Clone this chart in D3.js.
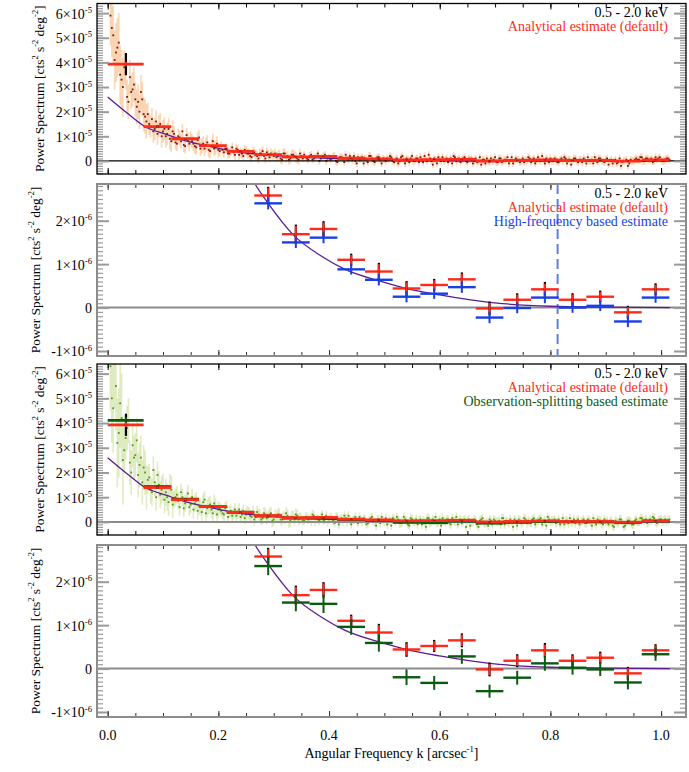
<!DOCTYPE html>
<html>
<head>
<meta charset="utf-8">
<script src="https://cdn.jsdelivr.net/npm/d3@7"></script>
<style>
  body { margin: 0; background: #fff; }
  text { font-family: "Liberation Serif", "Times New Roman", serif; }
</style>
</head>
<body>
<svg id="viz" width="689" height="772" font-family="Liberation Serif, serif"></svg>
<script>
// ---- data ----
// unbinned modes, values in 1e-5. Set A sits on k = 0.005 + i*0.005,
// set B on the half steps between them (k = 0.0075 + i*0.005)
const modeStart = 0.005
const modeStep = 0.005
const analyticalModesA = [
  5.9, 5.1, 4.4, 4.8, 3.3, 3.8, 2.6, 3.4, 2.9, 2.5,
  2.4, 2.8, 1.9, 1.6, 1.5, 1.7, 1.3, 1.1, 1.5, 1.2,
  1.0, 1.3, 0.8, 1.1, 0.7, 0.95, 1.2, 0.6, 0.85, 0.9,
  0.7, 0.55, 0.95, 0.6, 0.5, 0.75, 0.4, 0.8, 0.55, 0.45,
  0.6, 0.35, 0.5, 0.3, 0.55, 0.25, 0.45, 0.35, 0.2, 0.4,
  0.3, 0.15, 0.35, 0.2, 0.3, 0.4, 0.1, 0.25, 0.3, 0.2,
  0.15, 0.25, 0.05, 0.3, 0.2, 0.1, 0.25, 0.15, 0.05, 0.2,
  0.25, 0.1, 0.2, 0.05, 0.15, 0.3, 0.1, 0.2, 0.0, 0.15,
  0.1, 0.2, -0.05, 0.15, 0.1, 0.25, 0.05, 0.1, 0.2, -0.1,
  0.05, 0.15, 0.1, -0.05, 0.2, 0.0, 0.1, 0.15, -0.1, 0.05,
  0.1, 0.2, 0.0, 0.05, -0.1, 0.15, 0.05, 0.1, -0.05, 0.2,
  0.0, 0.1, 0.15, -0.05, 0.05, 0.25, 0.0, 0.1, -0.1, 0.05,
  0.15, 0.05, -0.05, 0.1, 0.2, 0.0, 0.1, 0.05, 0.15, -0.05,
  0.05, -0.1, 0.1, 0.0, -0.15, 0.05, 0.1, -0.05, 0.0, 0.15,
  -0.05, 0.1, 0.0, 0.05, -0.1, 0.15, 0.0, 0.05, -0.05, 0.1,
  0.05, 0.15, -0.05, 0.1, 0.0, 0.05, 0.2, -0.1, 0.05, 0.1,
  0.0, 0.05, -0.05, 0.1, 0.15, -0.1, 0.05, 0.0, 0.1, -0.05,
  0.05, 0.1, -0.1, 0.0, 0.05, 0.15, -0.05, 0.1, 0.0, 0.05,
  -0.15, 0.05, 0.0, -0.1, 0.1, -0.05, 0.0, -0.2, 0.05, 0.0,
  0.1, 0.05, 0.15, 0.0, 0.1, 0.05, -0.05, 0.15, 0.1, 0.05,
  0.0, 0.1, 0.05
]
const analyticalModesB = [
  5.4, 4.1, 4.6, 3.5, 3.0, 3.6, 2.4, 2.8, 3.1, 2.2,
  2.0, 2.5, 1.8, 1.9, 1.4, 1.2, 1.6, 1.4, 1.0, 1.3,
  1.1, 0.9, 1.2, 0.75, 1.0, 0.8, 0.65, 1.05, 0.7, 0.8,
  0.6, 0.85, 0.5, 0.7, 0.65, 0.45, 0.6, 0.5, 0.7, 0.4,
  0.45, 0.5, 0.3, 0.4, 0.35, 0.5, 0.25, 0.3, 0.45, 0.3,
  0.2, 0.35, 0.25, 0.1, 0.3, 0.2, 0.35, 0.15, 0.25, 0.3,
  0.2, 0.1, 0.3, 0.15, 0.05, 0.25, 0.2, 0.1, 0.3, 0.1,
  0.15, 0.05, 0.25, 0.1, 0.2, 0.0, 0.15, 0.25, 0.1, 0.05,
  0.2, 0.0, 0.1, 0.15, -0.05, 0.1, 0.2, 0.05, 0.0, 0.15,
  0.1, -0.1, 0.05, 0.2, 0.1, -0.05, 0.15, 0.05, 0.1, 0.0,
  0.05, 0.15, -0.05, 0.1, 0.0, 0.2, -0.1, 0.05, 0.1, 0.0,
  0.1, -0.05, 0.05, 0.2, 0.0, 0.1, -0.15, 0.05, 0.15, 0.0,
  0.0, 0.1, 0.05, -0.1, 0.15, 0.05, -0.05, 0.1, 0.0, 0.1,
  0.1, 0.0, -0.05, 0.15, 0.05, -0.1, 0.0, 0.1, 0.05, -0.05,
  0.1, -0.05, 0.05, 0.15, 0.0, -0.1, 0.1, 0.05, 0.0, -0.05,
  0.0, 0.1, 0.05, -0.1, 0.15, 0.0, 0.05, 0.1, -0.05, 0.0,
  0.1, -0.05, 0.05, 0.0, 0.1, 0.05, -0.15, 0.1, 0.0, 0.05,
  -0.05, 0.05, 0.15, 0.0, -0.1, 0.05, 0.1, 0.0, -0.05, 0.1,
  0.0, -0.1, 0.05, -0.05, -0.2, 0.0, 0.05, -0.1, 0.0, 0.05,
  0.05, 0.15, 0.0, 0.1, 0.05, 0.1, 0.0, 0.05, 0.15, 0.0,
  0.05, 0.1
]
const splittingModesA = [
  6.3, 4.6, 5.5, 3.6, 4.2, 2.9, 3.8, 2.4, 3.1, 2.7,
  1.9, 2.6, 2.2, 1.4, 1.8, 1.2, 1.6, 1.9, 1.1, 1.4,
  1.2, 0.8, 1.3, 0.9, 1.1, 0.6, 1.0, 0.75, 1.15, 0.7,
  0.5, 0.85, 0.65, 0.4, 0.9, 0.55, 0.7, 0.35, 0.6, 0.5,
  0.45, 0.3, 0.6, 0.4, 0.25, 0.5, 0.35, 0.2, 0.45, 0.3,
  0.35, 0.2, 0.1, 0.4, 0.25, 0.15, 0.3, 0.2, 0.35, 0.1,
  0.2, 0.3, 0.1, 0.15, 0.25, 0.05, 0.2, 0.3, 0.1, 0.15,
  0.05, 0.2, 0.15, 0.3, 0.0, 0.1, 0.2, 0.05, 0.25, 0.1,
  0.15, -0.05, 0.2, 0.1, 0.0, 0.15, 0.25, -0.1, 0.1, 0.05,
  0.2, 0.0, 0.1, -0.05, 0.15, 0.05, -0.15, 0.1, 0.2, 0.0,
  -0.1, 0.05, 0.15, 0.0, 0.1, -0.05, 0.2, 0.05, -0.15, 0.1,
  0.0, -0.1, 0.1, 0.05, -0.2, 0.15, 0.0, 0.05, -0.05, 0.1,
  0.15, 0.0, 0.1, -0.1, 0.05, 0.2, 0.0, -0.05, 0.1, 0.05,
  -0.15, 0.0, 0.05, -0.2, 0.1, -0.05, 0.0, 0.1, -0.1, 0.05,
  0.0, -0.1, 0.15, 0.05, -0.05, 0.0, 0.1, -0.15, 0.05, 0.0,
  0.1, 0.05, -0.05, 0.15, 0.0, 0.1, -0.1, 0.05, 0.2, 0.0,
  0.05, -0.05, 0.1, 0.0, -0.1, 0.05, 0.15, 0.0, -0.05, 0.1,
  0.0, 0.1, -0.05, 0.05, -0.15, 0.0, 0.1, 0.05, -0.1, 0.0,
  -0.1, 0.05, -0.2, 0.0, 0.1, -0.05, -0.15, 0.05, 0.0, -0.1,
  0.1, 0.0, 0.15, 0.05, -0.05, 0.1, 0.2, 0.0, 0.05, 0.1,
  0.05, 0.0, 0.1
]
const splittingModesB = [
  5.0, 6.4, 3.2, 4.8, 2.5, 3.4, 4.1, 2.0, 2.6, 3.3,
  2.3, 1.6, 2.0, 1.7, 1.3, 2.1, 1.0, 1.5, 1.3, 0.9,
  1.0, 1.4, 0.7, 1.0, 0.85, 1.2, 0.55, 0.9, 0.6, 1.0,
  0.75, 0.45, 0.6, 0.8, 0.35, 0.65, 0.5, 0.75, 0.3, 0.55,
  0.35, 0.55, 0.2, 0.45, 0.35, 0.25, 0.5, 0.3, 0.15, 0.4,
  0.25, 0.4, 0.2, 0.3, 0.1, 0.35, 0.15, 0.3, 0.05, 0.25,
  0.3, 0.1, 0.2, 0.35, 0.0, 0.2, 0.1, 0.25, 0.15, 0.05,
  0.2, 0.1, 0.0, 0.25, 0.15, 0.05, 0.3, 0.1, 0.0, 0.2,
  0.05, 0.2, -0.1, 0.15, 0.25, 0.0, 0.1, 0.05, 0.2, -0.05,
  0.1, 0.15, -0.1, 0.05, 0.2, 0.0, 0.1, -0.05, 0.05, 0.15,
  0.05, -0.15, 0.1, 0.2, -0.05, 0.0, 0.1, -0.1, 0.15, 0.0,
  0.1, 0.05, -0.1, 0.0, 0.15, -0.05, 0.1, 0.2, 0.0, -0.15,
  0.05, 0.1, -0.05, 0.15, 0.0, -0.1, 0.1, 0.05, -0.2, 0.1,
  0.0, 0.1, -0.1, 0.05, 0.15, -0.05, -0.15, 0.05, 0.1, 0.0,
  0.05, 0.15, -0.1, 0.0, 0.1, -0.2, 0.05, 0.1, -0.05, 0.15,
  -0.05, 0.0, 0.1, -0.1, 0.05, 0.15, 0.0, -0.15, 0.1, 0.05,
  0.1, 0.0, -0.1, 0.15, 0.05, -0.05, 0.0, 0.1, 0.05, -0.1,
  0.05, -0.05, 0.1, 0.0, 0.15, -0.1, 0.05, -0.05, 0.1, 0.05,
  0.0, -0.15, 0.05, -0.05, 0.1, -0.2, 0.0, 0.05, -0.1, 0.05,
  0.0, 0.15, 0.05, 0.1, 0.0, 0.05, 0.15, -0.05, 0.1, 0.0,
  0.1, 0.05
]
// half length of the mode error bars (1e-5), looked up by k
const modeErrK = [0.03, 0.07, 0.12, 0.2, 0.35, 1.1]
const analyticalModeErr = [1.2, 0.7, 0.45, 0.3, 0.2, 0.15]
const splittingModeErr = [1.8, 0.9, 0.55, 0.35, 0.25, 0.18]

// binned estimates, values in 1e-6
const binK = [0.033, 0.09, 0.14, 0.19, 0.24, 0.29, 0.34, 0.39, 0.44, 0.49,
  0.54, 0.59, 0.64, 0.69, 0.74, 0.79, 0.84, 0.89, 0.94, 0.99]
const binEdges = [0.0, 0.065, 0.115, 0.165, 0.215, 0.265, 0.315, 0.365, 0.415, 0.465,
  0.515, 0.565, 0.615, 0.665, 0.715, 0.765, 0.815, 0.865, 0.915, 0.965, 1.015]
const analytical = [39.3, 13.9, 9.0, 6.2, 3.9, 2.58, 1.69, 1.81, 1.10, 0.83,
  0.44, 0.52, 0.65, -0.02, 0.18, 0.42, 0.18, 0.25, -0.11, 0.42]
const analyticalErr = [0.9, 0.5, 0.35, 0.25, 0.2, 0.17, 0.19, 0.15, 0.11, 0.17,
  0.14, 0.11, 0.13, 0.13, 0.12, 0.13, 0.12, 0.11, 0.12, 0.11]
const totalErr = [4.5, 0.5, 0.35, 0.25, 0.2, 0.2, 0.22, 0.18, 0.14, 0.2,
  0.17, 0.14, 0.16, 0.16, 0.15, 0.17, 0.15, 0.14, 0.15, 0.14]
const highFreq = [null, null, null, null, null, 2.40, 1.50, 1.61, 0.88, 0.64,
  0.25, 0.32, 0.47, -0.23, -0.01, 0.23, 0.0, 0.04, -0.32, 0.23]
const highFreqErr = [0, 0, 0, 0, 0, 0.14, 0.13, 0.13, 0.12, 0.13,
  0.13, 0.12, 0.13, 0.13, 0.12, 0.13, 0.12, 0.12, 0.13, 0.12]
const splitting = [41.1, 14.3, 9.2, 6.2, 3.9, 2.36, 1.52, 1.49, 0.96, 0.59,
  -0.20, -0.33, 0.28, -0.52, -0.21, 0.12, 0.02, -0.02, -0.32, 0.33]
const splittingErr = [1.3, 0.6, 0.4, 0.3, 0.25, 0.21, 0.2, 0.21, 0.18, 0.2,
  0.18, 0.16, 0.17, 0.15, 0.16, 0.17, 0.16, 0.15, 0.16, 0.15]

// model curve (1e-6)
const modelK = [0.0, 0.035, 0.067, 0.107, 0.143, 0.185, 0.227, 0.266, 0.29, 0.335,
  0.388, 0.429, 0.489, 0.537, 0.60, 0.69, 0.80, 0.90, 1.016]
const modelP = [26.0, 19.5, 14.0, 10.7, 8.0, 5.9, 3.9, 2.85, 2.40, 1.68,
  1.17, 0.88, 0.62, 0.45, 0.29, 0.12, 0.03, 0.01, 0.0]

const kCut = 0.813   // high-frequency cut shown as dashed line

const RED = '#ff2a1a'
const BLUE = '#1a3fe6'
const GREEN = '#0b5a12'
const FONT = 14

// ---- layout ----
const svg = d3.select('#viz')
const left = 97
const right = 686
const x = d3.scaleLinear().domain([-0.0193, 1.045]).range([left, right])

const panels = [
  { top: 3.5, bottom: 174, wide: true, frame: '#000', zero: '#000', zeroW: 1.2,
    modes: [analyticalModesA, analyticalModesB], modeErr: analyticalModeErr,
    errColor: '#f5b06c', dotColor: '#8a0f0f',
    series: [['analytical', RED]],
    legend: [['0.5 - 2.0 keV', '#000'], ['Analytical estimate (default)', RED]] },
  { top: 184, bottom: 356, wide: false, frame: '#8c8c8c', zero: '#8c8c8c', zeroW: 2, dash: true,
    series: [['analytical', RED], ['highFreq', BLUE]],
    legend: [['0.5 - 2.0 keV', '#000'], ['Analytical estimate (default)', RED], ['High-frequency based estimate', BLUE]] },
  { top: 364, bottom: 535, wide: true, frame: '#000', zero: '#8c8c8c', zeroW: 2,
    modes: [splittingModesA, splittingModesB], modeErr: splittingModeErr,
    errColor: '#c2da8a', dotColor: '#4f9a10',
    series: [['splitting', GREEN], ['analytical', RED]],
    legend: [['0.5 - 2.0 keV', '#000'], ['Analytical estimate (default)', RED], ['Observation-splitting based estimate', GREEN]] },
  { top: 545, bottom: 717, wide: false, frame: '#8c8c8c', zero: '#8c8c8c', zeroW: 2,
    series: [['analytical', RED], ['splitting', GREEN]],
    legend: [] }
]

const seriesData = {
  analytical: [analytical, analyticalErr],
  highFreq: [highFreq, highFreqErr],
  splitting: [splitting, splittingErr]
}

/**
 * Writes text with ^{...} parts as superscripts.
 */
function richText (sel, str, size) {
  const parts = str.split(/\^\{([^}]*)\}/)
  parts.forEach((p, i) => {
    if (p === '') return
    const sup = i % 2 === 1
    const t = sel.append('tspan').text(p)
    if (sup) {
      t.attr('font-size', size * 0.62).attr('dy', -size * 0.42)
    } else if (i > 0) {
      t.attr('dy', size * 0.42)
    }
  })
}

function yTickLabel (v, exp) {
  if (v === 0) return '0'
  const m = Math.round(v / Math.pow(10, -exp))
  return `${m}×10^{-${exp}}`
}

panels.forEach((p, idx) => {
  const g = svg.append('g')
  const domain = p.wide ? [-0.53e-5, 6.39e-5] : [-1.115e-6, 2.845e-6]
  const y = d3.scaleLinear().domain(domain).range([p.bottom, p.top])

  g.append('clipPath').attr('id', 'clip' + idx)
    .append('rect').attr('x', left).attr('y', p.top)
    .attr('width', right - left).attr('height', p.bottom - p.top)
  const plot = g.append('g').attr('clip-path', `url(#clip${idx})`)

  // unbinned modes
  if (p.modes) {
    const pts = []
    p.modes.forEach((arr, s) => {
      arr.forEach((v, i) => {
        const k = modeStart + s * modeStep / 2 + i * modeStep
        const e = p.modeErr[Math.min(d3.bisectLeft(modeErrK, k), modeErrK.length - 1)]
        pts.push({ k, v: v * 1e-5, e: e * 1e-5 })
      })
    })
    plot.append('g').selectAll('line').data(pts).join('line')
      .attr('x1', d => x(d.k)).attr('x2', d => x(d.k))
      .attr('y1', d => y(d.v - d.e)).attr('y2', d => y(d.v + d.e))
      .attr('stroke', p.errColor).attr('stroke-opacity', 0.5).attr('stroke-width', 1.6)
    plot.append('g').selectAll('rect').data(pts).join('rect')
      .attr('x', d => x(d.k) - 0.9).attr('y', d => y(d.v) - 0.9)
      .attr('width', 1.8).attr('height', 1.8)
      .attr('fill', p.dotColor)
  }

  // zero line
  plot.append('line')
    .attr('x1', left).attr('x2', right).attr('y1', y(0)).attr('y2', y(0))
    .attr('stroke', p.zero).attr('stroke-width', p.zeroW)

  if (p.dash) {
    plot.append('line')
      .attr('x1', x(kCut)).attr('x2', x(kCut)).attr('y1', p.top).attr('y2', p.bottom)
      .attr('stroke', '#5b80e4').attr('stroke-width', 2).attr('stroke-dasharray', '10,5')
  }

  // model curve
  const line = d3.line()
    .x(d => x(d[0])).y(d => y(d[1] * 1e-6))
    .curve(d3.curveMonotoneX)
  plot.append('path')
    .datum(d3.zip(modelK, modelP))
    .attr('d', line)
    .attr('fill', 'none').attr('stroke', '#5b1a90').attr('stroke-width', 1.3)

  // binned estimates
  const crosses = plot.append('g')
  p.series.forEach(([name, color]) => {
    const [vals, errs] = seriesData[name]
    const bins = vals.map((v, i) => ({ i, v, e: errs[i] })).filter(d => d.v !== null)
    crosses.append('g').selectAll('line').data(bins).join('line')
      .attr('x1', d => x(binEdges[d.i])).attr('x2', d => x(binEdges[d.i + 1]))
      .attr('y1', d => y(d.v * 1e-6)).attr('y2', d => y(d.v * 1e-6))
      .attr('stroke', color).attr('stroke-width', p.wide ? 2.8 : 2.4)
  })
  crosses.append('g').selectAll('line').data(analytical).join('line')
    .attr('x1', (d, i) => x(binK[i])).attr('x2', (d, i) => x(binK[i]))
    .attr('y1', (d, i) => y((d - totalErr[i]) * 1e-6))
    .attr('y2', (d, i) => y((d + totalErr[i]) * 1e-6))
    .attr('stroke', '#000').attr('stroke-width', 2.2)
  p.series.forEach(([name, color]) => {
    const [vals, errs] = seriesData[name]
    const bins = vals.map((v, i) => ({ i, v, e: errs[i] })).filter(d => d.v !== null)
    crosses.append('g').selectAll('line').data(bins).join('line')
      .attr('x1', d => x(binK[d.i])).attr('x2', d => x(binK[d.i]))
      .attr('y1', d => y((d.v - d.e) * 1e-6)).attr('y2', d => y((d.v + d.e) * 1e-6))
      .attr('stroke', color).attr('stroke-width', 2)
  })

  // y ticks, left and right
  const exp = p.wide ? 5 : 6
  const majors = p.wide ? d3.range(0, 7).map(v => v * 1e-5) : [-1e-6, 0, 1e-6, 2e-6]
  const minors = p.wide ? d3.range(-5, 64).map(v => v * 1e-6) : d3.range(-11, 29).map(v => v * 1e-7)
  const tickStyle = sel => {
    sel.select('.domain').remove()
    sel.selectAll('line').attr('stroke', '#9a9a9a')
  }
  g.append('g').attr('transform', `translate(${left},0)`)
    .call(d3.axisLeft(y).tickValues(minors).tickSize(-6).tickFormat(''))
    .call(tickStyle).selectAll('line').attr('stroke-width', 1.2)
  g.append('g').attr('transform', `translate(${right},0)`)
    .call(d3.axisRight(y).tickValues(minors).tickSize(-6).tickFormat(''))
    .call(tickStyle).selectAll('line').attr('stroke-width', 1.2)
  g.append('g').attr('transform', `translate(${right},0)`)
    .call(d3.axisRight(y).tickValues(majors).tickSize(-12).tickFormat(''))
    .call(tickStyle).selectAll('line').attr('stroke-width', 2)
  const yl = g.append('g').attr('transform', `translate(${left},0)`)
    .call(d3.axisLeft(y).tickValues(majors).tickSize(-12).tickPadding(5).tickFormat(''))
    .call(tickStyle)
  yl.attr('font-family', null).attr('font-size', null)
  yl.selectAll('line').attr('stroke-width', 2)
  yl.selectAll('.tick text')
    .attr('font-size', FONT).attr('fill', '#000')
    .attr('dy', '0.35em')
    .each(function (d) { richText(d3.select(this), yTickLabel(d, exp), FONT) })

  // x ticks, top and bottom
  const xMinor = d3.range(0, 21).map(v => v * 0.05)
  const xMajor = [0, 0.2, 0.4, 0.6, 0.8, 1.0]
  const xTickColor = p.frame === '#000' ? '#000' : '#333'
  const xs = [
    [d3.axisTop, p.top, xMinor, -4], [d3.axisTop, p.top, xMajor, -6],
    [d3.axisBottom, p.bottom, xMinor, -4], [d3.axisBottom, p.bottom, xMajor, -6]
  ]
  xs.forEach(([ax, yy, vals, size]) => {
    g.append('g').attr('transform', `translate(0,${yy})`)
      .call(ax(x).tickValues(vals).tickSize(size).tickFormat(''))
      .call(s => s.select('.domain').remove())
      .selectAll('line').attr('stroke', xTickColor).attr('stroke-width', 1)
  })
  if (idx === panels.length - 1) {
    g.append('g').selectAll('text').data(xMajor).join('text')
      .attr('x', d => x(d)).attr('y', 740)
      .attr('text-anchor', 'middle').attr('font-size', FONT)
      .text(d3.format('.1f'))
  }

  // frame
  g.append('rect')
    .attr('x', left).attr('y', p.top)
    .attr('width', right - left).attr('height', p.bottom - p.top)
    .attr('fill', 'none').attr('stroke', p.frame).attr('stroke-width', p.frame === '#000' ? 1.3 : 2)

  // legend text
  p.legend.forEach(([txt, col], j) => {
    g.append('text')
      .attr('x', 668).attr('y', p.top + 13.5 + j * 14)
      .attr('text-anchor', 'end').attr('font-size', FONT).attr('fill', col)
      .text(txt)
  })

  // y axis title
  const cy = (p.top + p.bottom) / 2
  const tx = p.wide ? 44 : 40
  const t = g.append('text')
    .attr('transform', `translate(${tx},${cy}) rotate(-90)`)
    .attr('text-anchor', 'middle').attr('font-size', 13.5)
  richText(t, 'Power Spectrum [cts^{2} s^{-2} deg^{-2}]', 13.5)
})

const xt = svg.append('text')
  .attr('x', (left + right) / 2).attr('y', 758)
  .attr('text-anchor', 'middle').attr('font-size', FONT)
richText(xt, 'Angular Frequency k [arcsec^{-1}]', FONT)
</script>
</body>
</html>
